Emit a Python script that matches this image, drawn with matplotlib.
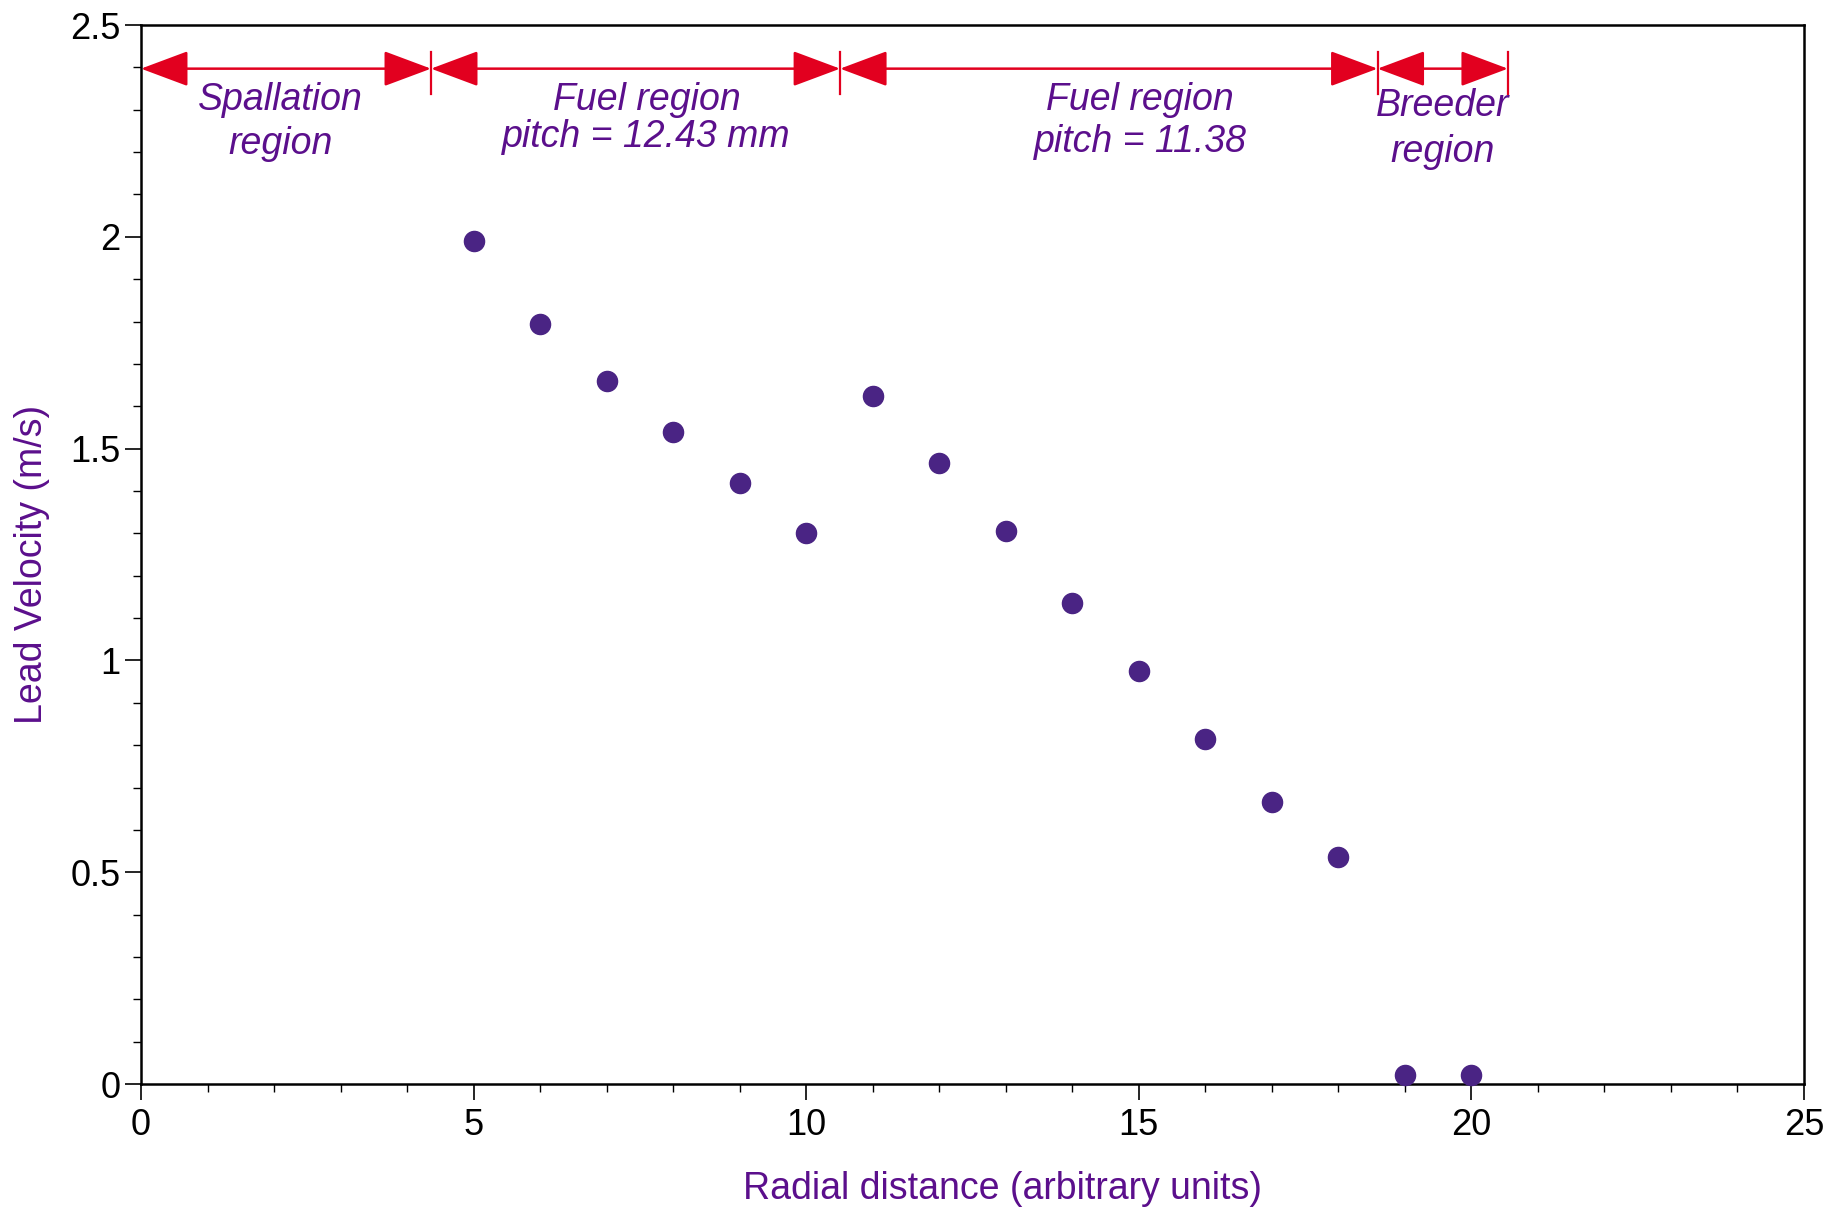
import numpy as np
import matplotlib.pyplot as plt
from matplotlib.ticker import MultipleLocator

plt.rcParams['font.family'] = ['Liberation Sans', 'DejaVu Sans']

# data
radial = np.array([5, 6, 7, 8, 9, 10, 11, 12, 13, 14, 15, 16, 17, 18, 19, 20])
velocity = np.array([1.99, 1.795, 1.66, 1.54, 1.42, 1.30, 1.625, 1.465, 1.305,
                     1.135, 0.975, 0.815, 0.665, 0.535, 0.022, 0.022])

# region boundaries along the top
bounds = [0, 4.36, 10.51, 18.59, 20.55]
region_top = ["Spallation", "Fuel region", "Fuel region", "Breeder"]
region_bottom = ["region", "pitch = 12.43 mm", "pitch = 11.38", "region"]
region_x = [2.1, 7.6, 15.02, 19.57]

purple_txt = '#5b0f8c'
dot_col = '#4a2484'
red = '#e2001f'

fig = plt.figure(figsize=(18.43, 12.15), dpi=100)
ax = fig.add_axes([0.0765, 0.1078, 0.9023, 0.8716])

ax.scatter(radial, velocity, s=210, color=dot_col, zorder=3, clip_on=False)

# arrows for regions
arrow_y = 2.397
for a, b in zip(bounds[:-1], bounds[1:]):
    ax.annotate('', xy=(b, arrow_y), xytext=(a, arrow_y),
                arrowprops=dict(arrowstyle='<|-|>,head_length=1.5,head_width=0.56',
                                color=red, lw=1.8, shrinkA=0, shrinkB=0,
                                mutation_scale=20))
for b in bounds[1:]:
    ax.plot([b, b], [2.337, 2.437], color=red, lw=1.6)

top_y = [2.323, 2.323, 2.323, 2.309]
bot_y = [2.218, 2.236, 2.223, 2.200]
for i in range(4):
    ax.text(region_x[i], top_y[i], region_top[i], ha='center', va='center',
            fontsize=27, style='italic', color=purple_txt)
    ax.text(region_x[i], bot_y[i], region_bottom[i], ha='center', va='center',
            fontsize=27, style='italic', color=purple_txt)

ax.set_xlim(0, 25)
ax.set_ylim(0, 2.5)
ax.set_xticks([0, 5, 10, 15, 20, 25])
ax.set_yticks([0, 0.5, 1, 1.5, 2, 2.5])
ax.set_yticklabels(['0', '0.5', '1', '1.5', '2', '2.5'])
ax.xaxis.set_minor_locator(MultipleLocator(1))
ax.yaxis.set_minor_locator(MultipleLocator(0.1))
ax.tick_params(which='major', length=11.5, width=1.2, labelsize=26, direction='out')
ax.tick_params(which='minor', length=5.8, width=1.0, direction='out')
ax.tick_params(axis='y', pad=3)
ax.tick_params(axis='x', pad=6)
for s in ax.spines.values():
    s.set_linewidth(1.8)

ax.set_xlabel('Radial distance (arbitrary units)', fontsize=27, color=purple_txt)
ax.set_ylabel('Lead Velocity (m/s)', fontsize=27, color=purple_txt)
ax.xaxis.set_label_coords(0.518, -0.099)
ax.xaxis.label.set_va('center')
ax.yaxis.set_label_coords(-0.0655, 0.491)
ax.yaxis.label.set_va('center')

fig.savefig('out.png', dpi=100)
